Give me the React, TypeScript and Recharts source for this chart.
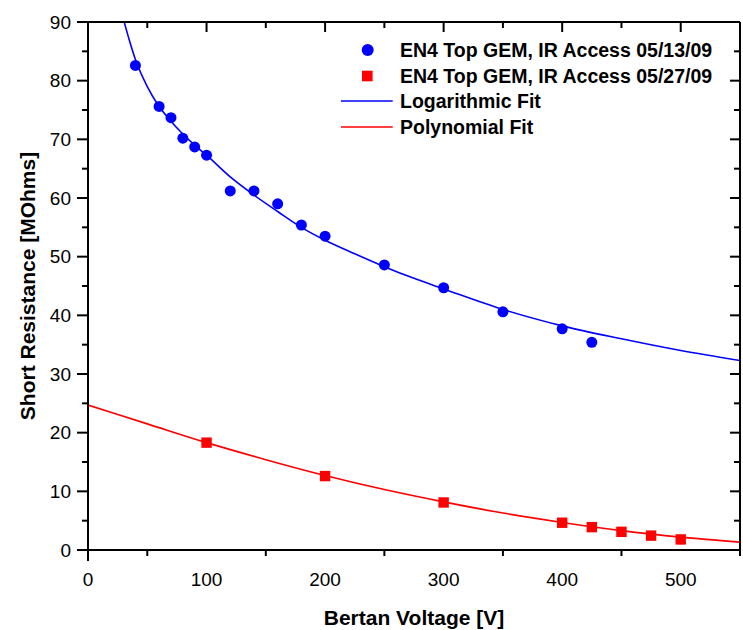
import React from 'react';
import { ComposedChart, XAxis, YAxis, Line, Scatter, Legend } from 'recharts';

// ---- data ----
const blueX = [40, 60, 70, 80, 90, 100, 120, 140, 160, 180, 200, 250, 300, 350, 400, 425];
const blueY = [82.6, 75.6, 73.7, 70.2, 68.7, 67.3, 61.2, 61.2, 59.0, 55.4, 53.5, 48.6, 44.7, 40.6, 37.7, 35.4];

const redX = [100, 200, 300, 400, 425, 450, 475, 500];
const redY = [18.3, 12.6, 8.1, 4.65, 3.9, 3.1, 2.45, 1.8];

const logFitX = [30.5, 35, 40, 50, 60, 70, 80, 90, 100, 120, 140, 160, 180, 200, 225, 250, 275, 300, 350, 400, 450, 500, 550];
const logFitY = [90.0, 86.8, 83.6, 79.0, 75.6, 73.1, 70.9, 69.0, 67.3, 63.6, 60.5, 57.7, 55.0, 52.8, 50.5, 48.3, 46.3, 44.5, 41.0, 38.2, 36.0, 34.0, 32.3];

const polyFitX = [0, 50, 100, 150, 200, 250, 300, 350, 400, 450, 500, 550];
const polyFitY = [24.7, 21.5, 18.3, 15.4, 12.7, 10.3, 8.2, 6.3, 4.7, 3.3, 2.2, 1.35];

const seriesNames = [
  'EN4 Top GEM, IR Access 05/13/09',
  'EN4 Top GEM, IR Access 05/27/09',
  'Logarithmic Fit',
  'Polynomial Fit',
];

const xTicks = [0, 50, 100, 150, 200, 250, 300, 350, 400, 450, 500, 550];
const yTicks = [0, 5, 10, 15, 20, 25, 30, 35, 40, 45, 50, 55, 60, 65, 70, 75, 80, 85, 90];
const xTitle = 'Bertan Voltage [V]';
const yTitle = 'Short Resistance [MOhms]';

const zip = (xs: number[], ys: number[]) => xs.map((x, i) => ({ x, y: ys[i] }));
const blueData = zip(blueX, blueY);
const redData = zip(redX, redY);
const logData = zip(logFitX, logFitY);
const polyData = zip(polyFitX, polyFitY);

const FONT = '"Liberation Sans", Arial, sans-serif';
const BLUE = '#0000ff';
const RED = '#ff0000';

const BottomTick = (props: any) => {
  const { x, y, payload } = props;
  const v = payload.value;
  const major = v % 100 === 0;
  const len = v === 0 ? 11 : major ? 0 : 6;
  return (
    <g>
      {len > 0 && <line x1={x} x2={x} y1={y} y2={y + len} stroke="#000" strokeWidth={2} />}
      {major && v <= 500 && (
        <text x={x} y={y + 29} textAnchor="middle" dominantBaseline="central" fontFamily={FONT} fontSize={19} fill="#000">
          {v}
        </text>
      )}
    </g>
  );
};

const TopTick = (props: any) => {
  const { x, y, payload } = props;
  const major = payload.value % 100 === 0;
  const len = major ? 10 : 6;
  return <line x1={x} x2={x} y1={y} y2={y + len} stroke="#000" strokeWidth={2} />;
};

const LeftTick = (props: any) => {
  const { x, y, payload } = props;
  const v = payload.value;
  const major = v % 10 === 0;
  const len = major ? 11 : 6;
  return (
    <g>
      <line x1={x - len} x2={x} y1={y} y2={y} stroke="#000" strokeWidth={2} />
      {major && (
        <text x={x - 17} y={y} textAnchor="end" dominantBaseline="central" fontFamily={FONT} fontSize={19} fill="#000">
          {v}
        </text>
      )}
    </g>
  );
};

const RightTick = (props: any) => {
  const { x, y, payload } = props;
  const major = payload.value % 10 === 0;
  const len = major ? 10 : 6;
  return <line x1={x - len} x2={x} y1={y} y2={y} stroke="#000" strokeWidth={2} />;
};

const YTitle = (props: any) => {
  const vb = props.viewBox || { y: 22, height: 528 };
  const cy = vb.y + vb.height / 2;
  return (
    <text
      x={35}
      y={cy}
      transform={`rotate(-90, 35, ${cy})`}
      textAnchor="middle"
      fontFamily={FONT}
      fontWeight="bold"
      fontSize={21}
      fill="#000"
    >
      {yTitle}
    </text>
  );
};

const XTitle = (props: any) => {
  const vb = props.viewBox || { x: 88, width: 652 };
  const cx = vb.x + vb.width / 2;
  return (
    <text x={cx} y={625} textAnchor="middle" fontFamily={FONT} fontWeight="bold" fontSize={21} fill="#000">
      {xTitle}
    </text>
  );
};

const LegendContent = () => {
  const rowY = [15, 41, 66, 92];
  return (
    <svg width={400} height={110} style={{ display: 'block' }}>
      <circle cx={37.7} cy={rowY[0]} r={6} fill={BLUE} />
      <rect x={32} y={rowY[1] - 5.3} width={10.6} height={10.6} fill={RED} />
      <line x1={11} x2={62.7} y1={rowY[2]} y2={rowY[2]} stroke={BLUE} strokeWidth={1.5} />
      <line x1={11} x2={62.7} y1={rowY[3]} y2={rowY[3]} stroke={RED} strokeWidth={1.5} />
      {seriesNames.map((n, i) => (
        <text
          key={n}
          x={70}
          y={rowY[i]}
          dominantBaseline="central"
          fontFamily={FONT}
          fontWeight="bold"
          fontSize={19.5}
          fill="#000"
        >
          {n}
        </text>
      ))}
    </svg>
  );
};

const circleShape = (p: any) => <circle cx={p.cx} cy={p.cy} r={5.5} fill={BLUE} />;
const squareShape = (p: any) => <rect x={p.cx - 5.2} y={p.cy - 5.2} width={10.4} height={10.4} fill={RED} />;

export default function App() {
  return (
    <div style={{ position: 'absolute', left: 0, top: 0, width: 743, height: 630, background: '#fff' }}>
      <ComposedChart width={743} height={630} margin={{ top: 21, right: 2, bottom: 0, left: 0 }}>
        <XAxis
          xAxisId="b"
          type="number"
          dataKey="x"
          domain={[0, 550]}
          allowDataOverflow
          ticks={xTicks}
          interval={0}
          height={80}
          tickSize={0}
          tickMargin={0}
          tickLine={false}
          axisLine={{ stroke: '#000', strokeWidth: 2 }}
          tick={BottomTick}
          label={XTitle}
        />
        <XAxis
          xAxisId="t"
          orientation="top"
          type="number"
          dataKey="x"
          domain={[0, 550]}
          allowDataOverflow
          ticks={xTicks}
          interval={0}
          height={1}
          tickSize={0}
          tickMargin={0}
          tickLine={false}
          axisLine={{ stroke: '#000', strokeWidth: 2 }}
          tick={TopTick}
        />
        <YAxis
          yAxisId="l"
          type="number"
          dataKey="y"
          domain={[0, 90]}
          allowDataOverflow
          ticks={yTicks}
          interval={0}
          width={88}
          tickSize={0}
          tickMargin={0}
          tickLine={false}
          axisLine={{ stroke: '#000', strokeWidth: 2 }}
          tick={LeftTick}
          label={YTitle}
        />
        <YAxis
          yAxisId="r"
          orientation="right"
          type="number"
          dataKey="y"
          domain={[0, 90]}
          allowDataOverflow
          ticks={yTicks}
          interval={0}
          width={1}
          tickSize={0}
          tickMargin={0}
          tickLine={false}
          axisLine={{ stroke: '#000', strokeWidth: 2 }}
          tick={RightTick}
        />
        <Legend
          layout="vertical"
          align="center"
          verticalAlign="middle"
          wrapperStyle={{ position: 'absolute', left: 330, top: 35, width: 400, height: 110 }}
          content={LegendContent}
        />
        <Line
          xAxisId="b"
          yAxisId="l"
          data={logData}
          dataKey="y"
          name={seriesNames[2]}
          type="monotone"
          stroke={BLUE}
          strokeWidth={1.6}
          dot={false}
          activeDot={false}
          isAnimationActive={false}
        />
        <Line
          xAxisId="b"
          yAxisId="l"
          data={polyData}
          dataKey="y"
          name={seriesNames[3]}
          type="monotone"
          stroke={RED}
          strokeWidth={1.6}
          dot={false}
          activeDot={false}
          isAnimationActive={false}
        />
        <Scatter
          xAxisId="b"
          yAxisId="l"
          data={blueData}
          dataKey="y"
          name={seriesNames[0]}
          fill={BLUE}
          shape={circleShape}
          isAnimationActive={false}
        />
        <Scatter
          xAxisId="b"
          yAxisId="l"
          data={redData}
          dataKey="y"
          name={seriesNames[1]}
          fill={RED}
          shape={squareShape}
          isAnimationActive={false}
        />
      </ComposedChart>
    </div>
  );
}
